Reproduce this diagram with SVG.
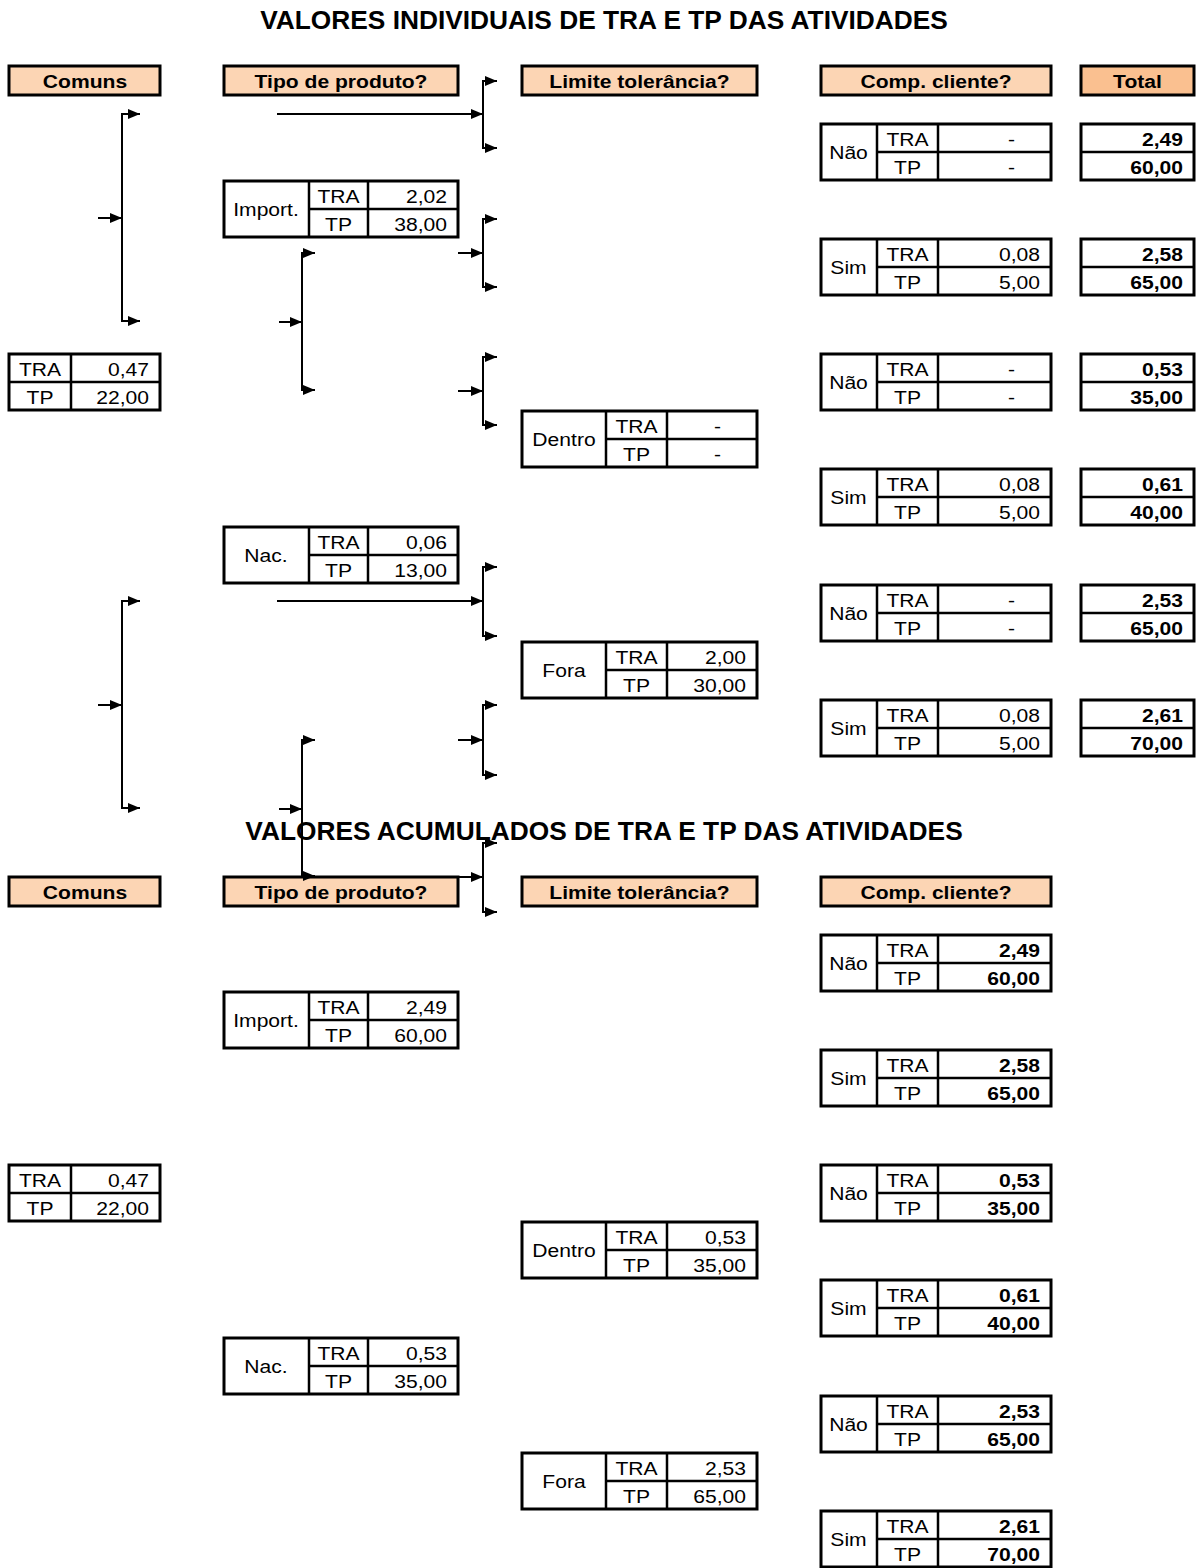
<svg xmlns="http://www.w3.org/2000/svg" width="1204" height="1568" viewBox="0 0 1204 1568">
<style>
  .hdr { fill: #FCD5B4; stroke: #000; stroke-width: 3; }
  .tot { fill: #FAC090; stroke: #000; stroke-width: 3; }
  .box { fill: #fff; stroke: #000; stroke-width: 3; }
  .in { stroke: #000; stroke-width: 2.5; fill: none; }
  .t { font-family: "Liberation Sans", Arial, sans-serif; font-size: 18.5px; fill: #000; }
  .b { font-weight: bold; }
  .c { text-anchor: middle; }
  .r { text-anchor: end; }
  .title { font-family: "Liberation Sans", Arial, sans-serif; font-size: 26.3px; font-weight: bold; text-anchor: middle; fill: #000; }
  .con { stroke: #000; stroke-width: 2; fill: none; marker-end: url(#ah); }
  .brk { stroke: #000; stroke-width: 2; fill: none; marker-start: url(#ah); marker-end: url(#ah); }
</style>
<defs>
  <marker id="ah" markerWidth="12" markerHeight="10" refX="12" refY="5" orient="auto-start-reverse" markerUnits="userSpaceOnUse">
    <path d="M0,0 L12,5 L0,10 z" fill="#000"/>
  </marker>
</defs>
<rect width="1204" height="1568" fill="#fff"/>

<!-- ===== Individual values ===== -->
<text class="title" x="604" y="29">VALORES INDIVIDUAIS DE TRA E TP DAS ATIVIDADES</text>

<g id="hdr-comuns-1"><rect class="hdr" x="9" y="66" width="151" height="29"/><text class="t b c" transform="translate(85 88) scale(1.14 1)">Comuns</text></g>
<g id="hdr-tipo-1"><rect class="hdr" x="224" y="66" width="234" height="29"/><text class="t b c" transform="translate(341 88) scale(1.14 1)">Tipo de produto?</text></g>
<g id="hdr-limite-1"><rect class="hdr" x="522" y="66" width="235" height="29"/><text class="t b c" transform="translate(639.5 88) scale(1.14 1)">Limite tolerância?</text></g>
<g id="hdr-comp-1"><rect class="hdr" x="821" y="66" width="230" height="29"/><text class="t b c" transform="translate(936 88) scale(1.14 1)">Comp. cliente?</text></g>
<g id="hdr-total"><rect class="tot" x="1081" y="66" width="113" height="29"/><text class="t b c" transform="translate(1137.5 88) scale(1.14 1)">Total</text></g>

<!-- common activities -->
<g id="comuns-1">
  <rect class="box" x="9" y="354" width="151" height="56"/>
  <path class="in" d="M71,353 V411 M8,382 H161"/>
  <text class="t c" transform="translate(40 376) scale(1.14 1)">TRA</text>
  <text class="t r" transform="translate(149 376) scale(1.14 1)">0,47</text>
  <text class="t c" transform="translate(40 404) scale(1.14 1)">TP</text>
  <text class="t r" transform="translate(149 404) scale(1.14 1)">22,00</text>
</g>

<!-- product type -->
<g id="import-1">
  <rect class="box" x="224" y="181" width="234" height="56"/>
  <path class="in" d="M309,180 V238 M368,180 V238 M309,209 H459"/>
  <text class="t c" transform="translate(266 216) scale(1.14 1)">Import.</text>
  <text class="t c" transform="translate(338.5 203) scale(1.14 1)">TRA</text>
  <text class="t r" transform="translate(447 203) scale(1.14 1)">2,02</text>
  <text class="t c" transform="translate(338.5 231) scale(1.14 1)">TP</text>
  <text class="t r" transform="translate(447 231) scale(1.14 1)">38,00</text>
</g>
<g id="nac-1">
  <rect class="box" x="224" y="527" width="234" height="56"/>
  <path class="in" d="M309,526 V584 M368,526 V584 M309,555 H459"/>
  <text class="t c" transform="translate(266 562) scale(1.14 1)">Nac.</text>
  <text class="t c" transform="translate(338.5 549) scale(1.14 1)">TRA</text>
  <text class="t r" transform="translate(447 549) scale(1.14 1)">0,06</text>
  <text class="t c" transform="translate(338.5 577) scale(1.14 1)">TP</text>
  <text class="t r" transform="translate(447 577) scale(1.14 1)">13,00</text>
</g>

<!-- tolerance limit -->
<g id="dentro-1">
  <rect class="box" x="522" y="411" width="235" height="56"/>
  <path class="in" d="M606,410 V468 M667,410 V468 M606,439 H758"/>
  <text class="t c" transform="translate(564 446) scale(1.14 1)">Dentro</text>
  <text class="t c" transform="translate(636.5 433) scale(1.14 1)">TRA</text>
  <text class="t r" transform="translate(721 433) scale(1.14 1)">-</text>
  <text class="t c" transform="translate(636.5 461) scale(1.14 1)">TP</text>
  <text class="t r" transform="translate(721 461) scale(1.14 1)">-</text>
</g>
<g id="fora-1">
  <rect class="box" x="522" y="642" width="235" height="56"/>
  <path class="in" d="M606,641 V699 M667,641 V699 M606,670 H758"/>
  <text class="t c" transform="translate(564 677) scale(1.14 1)">Fora</text>
  <text class="t c" transform="translate(636.5 664) scale(1.14 1)">TRA</text>
  <text class="t r" transform="translate(746 664) scale(1.14 1)">2,00</text>
  <text class="t c" transform="translate(636.5 692) scale(1.14 1)">TP</text>
  <text class="t r" transform="translate(746 692) scale(1.14 1)">30,00</text>
</g>

<!-- customer compensation -->
<g id="comp-nao-1a">
  <rect class="box" x="821" y="124" width="230" height="56"/>
  <path class="in" d="M877,123 V181 M938,123 V181 M877,152 H1052"/>
  <text class="t c" transform="translate(848.5 159) scale(1.14 1)">Não</text>
  <text class="t c" transform="translate(907.5 146) scale(1.14 1)">TRA</text>
  <text class="t r" transform="translate(1015 146) scale(1.14 1)">-</text>
  <text class="t c" transform="translate(907.5 174) scale(1.14 1)">TP</text>
  <text class="t r" transform="translate(1015 174) scale(1.14 1)">-</text>
</g>
<g id="comp-sim-1a">
  <rect class="box" x="821" y="239" width="230" height="56"/>
  <path class="in" d="M877,238 V296 M938,238 V296 M877,267 H1052"/>
  <text class="t c" transform="translate(848.5 274) scale(1.14 1)">Sim</text>
  <text class="t c" transform="translate(907.5 261) scale(1.14 1)">TRA</text>
  <text class="t r" transform="translate(1040 261) scale(1.14 1)">0,08</text>
  <text class="t c" transform="translate(907.5 289) scale(1.14 1)">TP</text>
  <text class="t r" transform="translate(1040 289) scale(1.14 1)">5,00</text>
</g>
<g id="comp-nao-1b">
  <rect class="box" x="821" y="354" width="230" height="56"/>
  <path class="in" d="M877,353 V411 M938,353 V411 M877,382 H1052"/>
  <text class="t c" transform="translate(848.5 389) scale(1.14 1)">Não</text>
  <text class="t c" transform="translate(907.5 376) scale(1.14 1)">TRA</text>
  <text class="t r" transform="translate(1015 376) scale(1.14 1)">-</text>
  <text class="t c" transform="translate(907.5 404) scale(1.14 1)">TP</text>
  <text class="t r" transform="translate(1015 404) scale(1.14 1)">-</text>
</g>
<g id="comp-sim-1b">
  <rect class="box" x="821" y="469" width="230" height="56"/>
  <path class="in" d="M877,468 V526 M938,468 V526 M877,497 H1052"/>
  <text class="t c" transform="translate(848.5 504) scale(1.14 1)">Sim</text>
  <text class="t c" transform="translate(907.5 491) scale(1.14 1)">TRA</text>
  <text class="t r" transform="translate(1040 491) scale(1.14 1)">0,08</text>
  <text class="t c" transform="translate(907.5 519) scale(1.14 1)">TP</text>
  <text class="t r" transform="translate(1040 519) scale(1.14 1)">5,00</text>
</g>
<g id="comp-nao-1c">
  <rect class="box" x="821" y="585" width="230" height="56"/>
  <path class="in" d="M877,584 V642 M938,584 V642 M877,613 H1052"/>
  <text class="t c" transform="translate(848.5 620) scale(1.14 1)">Não</text>
  <text class="t c" transform="translate(907.5 607) scale(1.14 1)">TRA</text>
  <text class="t r" transform="translate(1015 607) scale(1.14 1)">-</text>
  <text class="t c" transform="translate(907.5 635) scale(1.14 1)">TP</text>
  <text class="t r" transform="translate(1015 635) scale(1.14 1)">-</text>
</g>
<g id="comp-sim-1c">
  <rect class="box" x="821" y="700" width="230" height="56"/>
  <path class="in" d="M877,699 V757 M938,699 V757 M877,728 H1052"/>
  <text class="t c" transform="translate(848.5 735) scale(1.14 1)">Sim</text>
  <text class="t c" transform="translate(907.5 722) scale(1.14 1)">TRA</text>
  <text class="t r" transform="translate(1040 722) scale(1.14 1)">0,08</text>
  <text class="t c" transform="translate(907.5 750) scale(1.14 1)">TP</text>
  <text class="t r" transform="translate(1040 750) scale(1.14 1)">5,00</text>
</g>

<!-- totals -->
<g id="total-a"><rect class="box" x="1081" y="124" width="113" height="56"/><path class="in" d="M1080,152 H1195"/>
  <text class="t b r" transform="translate(1183 146) scale(1.14 1)">2,49</text><text class="t b r" transform="translate(1183 174) scale(1.14 1)">60,00</text></g>
<g id="total-b"><rect class="box" x="1081" y="239" width="113" height="56"/><path class="in" d="M1080,267 H1195"/>
  <text class="t b r" transform="translate(1183 261) scale(1.14 1)">2,58</text><text class="t b r" transform="translate(1183 289) scale(1.14 1)">65,00</text></g>
<g id="total-c"><rect class="box" x="1081" y="354" width="113" height="56"/><path class="in" d="M1080,382 H1195"/>
  <text class="t b r" transform="translate(1183 376) scale(1.14 1)">0,53</text><text class="t b r" transform="translate(1183 404) scale(1.14 1)">35,00</text></g>
<g id="total-d"><rect class="box" x="1081" y="469" width="113" height="56"/><path class="in" d="M1080,497 H1195"/>
  <text class="t b r" transform="translate(1183 491) scale(1.14 1)">0,61</text><text class="t b r" transform="translate(1183 519) scale(1.14 1)">40,00</text></g>
<g id="total-e"><rect class="box" x="1081" y="585" width="113" height="56"/><path class="in" d="M1080,613 H1195"/>
  <text class="t b r" transform="translate(1183 607) scale(1.14 1)">2,53</text><text class="t b r" transform="translate(1183 635) scale(1.14 1)">65,00</text></g>
<g id="total-f"><rect class="box" x="1081" y="700" width="113" height="56"/><path class="in" d="M1080,728 H1195"/>
  <text class="t b r" transform="translate(1183 722) scale(1.14 1)">2,61</text><text class="t b r" transform="translate(1183 750) scale(1.14 1)">70,00</text></g>

<!-- ===== Accumulated values ===== -->
<text class="title" x="604" y="840">VALORES ACUMULADOS DE TRA E TP DAS ATIVIDADES</text>

<g id="hdr-comuns-2"><rect class="hdr" x="9" y="877" width="151" height="29"/><text class="t b c" transform="translate(85 899) scale(1.14 1)">Comuns</text></g>
<g id="hdr-tipo-2"><rect class="hdr" x="224" y="877" width="234" height="29"/><text class="t b c" transform="translate(341 899) scale(1.14 1)">Tipo de produto?</text></g>
<g id="hdr-limite-2"><rect class="hdr" x="522" y="877" width="235" height="29"/><text class="t b c" transform="translate(639.5 899) scale(1.14 1)">Limite tolerância?</text></g>
<g id="hdr-comp-2"><rect class="hdr" x="821" y="877" width="230" height="29"/><text class="t b c" transform="translate(936 899) scale(1.14 1)">Comp. cliente?</text></g>

<g id="comuns-2">
  <rect class="box" x="9" y="1165" width="151" height="56"/>
  <path class="in" d="M71,1164 V1222 M8,1193 H161"/>
  <text class="t c" transform="translate(40 1187) scale(1.14 1)">TRA</text>
  <text class="t r" transform="translate(149 1187) scale(1.14 1)">0,47</text>
  <text class="t c" transform="translate(40 1215) scale(1.14 1)">TP</text>
  <text class="t r" transform="translate(149 1215) scale(1.14 1)">22,00</text>
</g>

<g id="import-2">
  <rect class="box" x="224" y="992" width="234" height="56"/>
  <path class="in" d="M309,991 V1049 M368,991 V1049 M309,1020 H459"/>
  <text class="t c" transform="translate(266 1027) scale(1.14 1)">Import.</text>
  <text class="t c" transform="translate(338.5 1014) scale(1.14 1)">TRA</text>
  <text class="t r" transform="translate(447 1014) scale(1.14 1)">2,49</text>
  <text class="t c" transform="translate(338.5 1042) scale(1.14 1)">TP</text>
  <text class="t r" transform="translate(447 1042) scale(1.14 1)">60,00</text>
</g>
<g id="nac-2">
  <rect class="box" x="224" y="1338" width="234" height="56"/>
  <path class="in" d="M309,1337 V1395 M368,1337 V1395 M309,1366 H459"/>
  <text class="t c" transform="translate(266 1373) scale(1.14 1)">Nac.</text>
  <text class="t c" transform="translate(338.5 1360) scale(1.14 1)">TRA</text>
  <text class="t r" transform="translate(447 1360) scale(1.14 1)">0,53</text>
  <text class="t c" transform="translate(338.5 1388) scale(1.14 1)">TP</text>
  <text class="t r" transform="translate(447 1388) scale(1.14 1)">35,00</text>
</g>

<g id="dentro-2">
  <rect class="box" x="522" y="1222" width="235" height="56"/>
  <path class="in" d="M606,1221 V1279 M667,1221 V1279 M606,1250 H758"/>
  <text class="t c" transform="translate(564 1257) scale(1.14 1)">Dentro</text>
  <text class="t c" transform="translate(636.5 1244) scale(1.14 1)">TRA</text>
  <text class="t r" transform="translate(746 1244) scale(1.14 1)">0,53</text>
  <text class="t c" transform="translate(636.5 1272) scale(1.14 1)">TP</text>
  <text class="t r" transform="translate(746 1272) scale(1.14 1)">35,00</text>
</g>
<g id="fora-2">
  <rect class="box" x="522" y="1453" width="235" height="56"/>
  <path class="in" d="M606,1452 V1510 M667,1452 V1510 M606,1481 H758"/>
  <text class="t c" transform="translate(564 1488) scale(1.14 1)">Fora</text>
  <text class="t c" transform="translate(636.5 1475) scale(1.14 1)">TRA</text>
  <text class="t r" transform="translate(746 1475) scale(1.14 1)">2,53</text>
  <text class="t c" transform="translate(636.5 1503) scale(1.14 1)">TP</text>
  <text class="t r" transform="translate(746 1503) scale(1.14 1)">65,00</text>
</g>

<g id="comp-nao-2a">
  <rect class="box" x="821" y="935" width="230" height="56"/>
  <path class="in" d="M877,934 V992 M938,934 V992 M877,963 H1052"/>
  <text class="t c" transform="translate(848.5 970) scale(1.14 1)">Não</text>
  <text class="t c" transform="translate(907.5 957) scale(1.14 1)">TRA</text>
  <text class="t b r" transform="translate(1040 957) scale(1.14 1)">2,49</text>
  <text class="t c" transform="translate(907.5 985) scale(1.14 1)">TP</text>
  <text class="t b r" transform="translate(1040 985) scale(1.14 1)">60,00</text>
</g>
<g id="comp-sim-2a">
  <rect class="box" x="821" y="1050" width="230" height="56"/>
  <path class="in" d="M877,1049 V1107 M938,1049 V1107 M877,1078 H1052"/>
  <text class="t c" transform="translate(848.5 1085) scale(1.14 1)">Sim</text>
  <text class="t c" transform="translate(907.5 1072) scale(1.14 1)">TRA</text>
  <text class="t b r" transform="translate(1040 1072) scale(1.14 1)">2,58</text>
  <text class="t c" transform="translate(907.5 1100) scale(1.14 1)">TP</text>
  <text class="t b r" transform="translate(1040 1100) scale(1.14 1)">65,00</text>
</g>
<g id="comp-nao-2b">
  <rect class="box" x="821" y="1165" width="230" height="56"/>
  <path class="in" d="M877,1164 V1222 M938,1164 V1222 M877,1193 H1052"/>
  <text class="t c" transform="translate(848.5 1200) scale(1.14 1)">Não</text>
  <text class="t c" transform="translate(907.5 1187) scale(1.14 1)">TRA</text>
  <text class="t b r" transform="translate(1040 1187) scale(1.14 1)">0,53</text>
  <text class="t c" transform="translate(907.5 1215) scale(1.14 1)">TP</text>
  <text class="t b r" transform="translate(1040 1215) scale(1.14 1)">35,00</text>
</g>
<g id="comp-sim-2b">
  <rect class="box" x="821" y="1280" width="230" height="56"/>
  <path class="in" d="M877,1279 V1337 M938,1279 V1337 M877,1308 H1052"/>
  <text class="t c" transform="translate(848.5 1315) scale(1.14 1)">Sim</text>
  <text class="t c" transform="translate(907.5 1302) scale(1.14 1)">TRA</text>
  <text class="t b r" transform="translate(1040 1302) scale(1.14 1)">0,61</text>
  <text class="t c" transform="translate(907.5 1330) scale(1.14 1)">TP</text>
  <text class="t b r" transform="translate(1040 1330) scale(1.14 1)">40,00</text>
</g>
<g id="comp-nao-2c">
  <rect class="box" x="821" y="1396" width="230" height="56"/>
  <path class="in" d="M877,1395 V1453 M938,1395 V1453 M877,1424 H1052"/>
  <text class="t c" transform="translate(848.5 1431) scale(1.14 1)">Não</text>
  <text class="t c" transform="translate(907.5 1418) scale(1.14 1)">TRA</text>
  <text class="t b r" transform="translate(1040 1418) scale(1.14 1)">2,53</text>
  <text class="t c" transform="translate(907.5 1446) scale(1.14 1)">TP</text>
  <text class="t b r" transform="translate(1040 1446) scale(1.14 1)">65,00</text>
</g>
<g id="comp-sim-2c">
  <rect class="box" x="821" y="1511" width="230" height="56"/>
  <path class="in" d="M877,1510 V1568 M938,1510 V1568 M877,1539 H1052"/>
  <text class="t c" transform="translate(848.5 1546) scale(1.14 1)">Sim</text>
  <text class="t c" transform="translate(907.5 1533) scale(1.14 1)">TRA</text>
  <text class="t b r" transform="translate(1040 1533) scale(1.14 1)">2,61</text>
  <text class="t c" transform="translate(907.5 1561) scale(1.14 1)">TP</text>
  <text class="t b r" transform="translate(1040 1561) scale(1.14 1)">70,00</text>
</g>

<!-- ===== Connectors (drawn on top) ===== -->
<g id="connectors">
  <!-- common activities split -->
  <path class="brk" d="M140,114 H122 V321 H140"/>
  <path class="con" d="M98,218 H122"/>
  <path class="brk" d="M140,601 H122 V808 H140"/>
  <path class="con" d="M98,705 H122"/>
  <!-- product type split -->
  <path class="brk" d="M315,253 H302 V390 H315"/>
  <path class="con" d="M279,322 H302"/>
  <path class="brk" d="M315,740 H302 V876 H315"/>
  <path class="con" d="M279,809 H302"/>
  <!-- long feeds -->
  <path class="con" d="M277,114 H483"/>
  <path class="con" d="M277,601 H483"/>
  <!-- tolerance limit splits -->
  <path class="brk" d="M497,81 H483 V148 H497"/>
  <path class="brk" d="M497,219 H483 V287 H497"/>
  <path class="con" d="M458,253 H483"/>
  <path class="brk" d="M497,357 H483 V425 H497"/>
  <path class="con" d="M458,391 H483"/>
  <path class="brk" d="M497,567 H483 V636 H497"/>
  <path class="brk" d="M497,705 H483 V775 H497"/>
  <path class="con" d="M458,740 H483"/>
  <path class="brk" d="M497,843 H483 V912 H497"/>
  <path class="con" d="M459,877 H483"/>
</g>
</svg>
